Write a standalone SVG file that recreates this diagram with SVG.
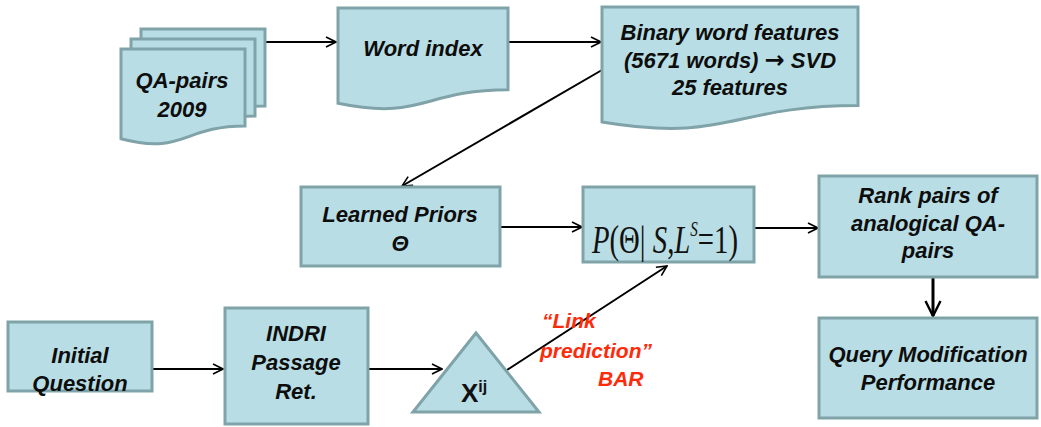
<svg xmlns="http://www.w3.org/2000/svg" width="1041" height="427" viewBox="0 0 1041 427">
<defs>
<marker id="arr" viewBox="0 0 12 12" refX="11" refY="6" markerWidth="6" markerHeight="6" markerUnits="strokeWidth" orient="auto">
<path d="M1,1 L11,6 L1,11" fill="none" stroke="#000" stroke-width="1.6"/>
</marker>
<style>
.box{fill:#b8dde4;stroke:#7fa3a8;stroke-width:3}
.t{font-family:"Liberation Sans",Arial,sans-serif;font-weight:bold;font-style:italic;font-size:22px;fill:#0d0d0d;text-anchor:middle}
.red{font-family:"Liberation Sans",Arial,sans-serif;font-weight:bold;font-style:italic;font-size:21px;fill:#ff2a0a}
.c{stroke:#000;stroke-width:2;fill:none;marker-end:url(#arr)}
.m{font-family:"Liberation Serif","Times New Roman",serif;font-size:40px;fill:#111}
</style>
</defs>
<g id="connectors">
<line class="c" x1="265" y1="42" x2="336" y2="42"/>
<line class="c" x1="508" y1="42" x2="601" y2="42"/>
<line class="c" x1="602" y1="70" x2="402" y2="186"/>
<line class="c" x1="500" y1="227" x2="582" y2="227"/>
<line class="c" x1="754" y1="228" x2="818" y2="228"/>
<line class="c" style="stroke-width:3" x1="933" y1="277" x2="933" y2="316"/>
<line class="c" x1="152" y1="369" x2="223" y2="369"/>
<line class="c" x1="368" y1="369" x2="442" y2="369"/>
<line class="c" x1="507" y1="370" x2="667" y2="266"/>
</g>
<g id="qa-pairs">
<path class="box" d="M141,29 H265 V106 C203,106 203,135.3 141,118.7 Z"/>
<path class="box" d="M131,39 H255 V116 C193,116 193,145.3 131,128.7 Z"/>
<path class="box" d="M121,49 H245 V126 C183,126 183,155.3 121,138.7 Z"/>
<text class="t" x="182" y="88">QA-pairs</text>
<text class="t" x="182" y="117">2009</text>
</g>
<g id="word-index">
<path class="box" d="M338,8 H508 V89.8 C423,89.8 423,120.9 338,103.3 Z"/>
<text class="t" x="423" y="56">Word index</text>
</g>
<g id="binary">
<path class="box" d="M602,7 H858 V105.6 C730,105.6 730,143.2 602,121.9 Z"/>
<text class="t" x="730" y="40">Binary word features</text>
<text class="t" x="730" y="68">(5671 words) <tspan style="font-family:'DejaVu Sans',sans-serif;font-style:normal;font-size:24px">→</tspan> SVD</text>
<text class="t" x="730" y="95">25 features</text>
</g>
<g id="learned-priors">
<rect class="box" x="301" y="187" width="199" height="79"/>
<text class="t" x="400" y="222">Learned Priors</text>
<text class="t" x="400" y="251">Θ</text>
</g>
<g id="posterior">
<rect class="box" x="583" y="187" width="171" height="75"/>
<text class="m" x="592" y="253" textLength="146" lengthAdjust="spacingAndGlyphs"><tspan font-style="italic">P</tspan>(Θ| <tspan font-style="italic">S</tspan>,<tspan font-style="italic">L</tspan><tspan font-style="italic" font-size="21" dy="-17">S</tspan><tspan dy="17">=1)</tspan></text>
</g>
<g id="rank">
<rect class="box" x="819" y="176" width="218" height="101"/>
<text class="t" x="928" y="203">Rank pairs of</text>
<text class="t" x="928" y="231">analogical QA-</text>
<text class="t" x="928" y="258">pairs</text>
</g>
<g id="query-mod">
<rect class="box" x="819" y="318" width="218" height="100"/>
<text class="t" x="928" y="362">Query Modification</text>
<text class="t" x="928" y="390">Performance</text>
</g>
<g id="initial-question">
<rect class="box" x="8" y="322" width="144" height="69"/>
<text class="t" x="80" y="363">Initial</text>
<text class="t" x="80" y="391">Question</text>
</g>
<g id="indri">
<rect class="box" x="225" y="308" width="143" height="116"/>
<text class="t" x="296" y="341">INDRI</text>
<text class="t" x="296" y="370">Passage</text>
<text class="t" x="296" y="399">Ret.</text>
</g>
<g id="xij">
<path class="box" d="M476,333 L539,412 L413,412 Z"/>
<text x="461" y="402" style="font-family:'Liberation Sans',Arial,sans-serif;font-weight:bold;font-size:26px;fill:#111">X<tspan font-size="16" dy="-10">ij</tspan></text>
</g>
<g id="link-label">
<text class="red" x="542" y="328">“Link</text>
<text class="red" x="540" y="358">prediction”</text>
<text class="red" x="598" y="386">BAR</text>
</g>
</svg>
